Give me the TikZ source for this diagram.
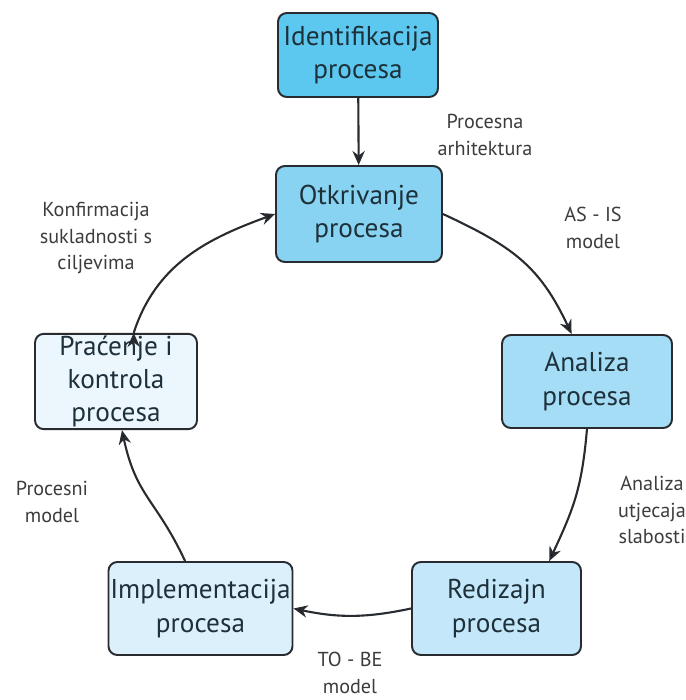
\documentclass[tikz,border=0pt]{standalone}
\usepackage{fontspec}
\setmainfont{PT Sans}
\usepackage{tikz}
\usetikzlibrary{positioning}
\usetikzlibrary{arrows.meta}

\definecolor{identfill}{RGB}{92,200,240}
\definecolor{otkfill}{RGB}{135,211,241}
\definecolor{anafill}{RGB}{166,221,246}
\definecolor{redfill}{RGB}{196,232,250}
\definecolor{implfill}{RGB}{220,240,252}
\definecolor{pracfill}{RGB}{236,246,253}
\definecolor{boxline}{RGB}{40,44,48}
\definecolor{boxtext}{RGB}{30,48,58}
\definecolor{lbltext}{RGB}{60,60,60}

\begin{document}
\begin{tikzpicture}[x=0.02cm,y=0.02cm,>={Stealth[length=8pt,width=7pt]},
                    box/.style={rectangle,rounded corners=5pt,draw=boxline,line width=1.1pt,
                      align=center,text=boxtext,inner sep=1pt,
                      font=\fontsize{15.5}{19}\selectfont},
                    lbl/.style={align=center,text=lbltext,font=\fontsize{11.5}{15}\selectfont}]

  \useasboundingbox (0,0) rectangle (686,700);

  % process steps
  \node[box,fill=identfill,minimum width=3.2cm,minimum height=1.68cm] (ident) at (358,645) {Identifikacija\\procesa};
  \node[box,fill=otkfill,minimum width=3.32cm,minimum height=1.92cm] (otk) at (359,486) {Otkrivanje\\procesa};
  \node[box,fill=anafill,minimum width=3.4cm,minimum height=1.86cm] (ana) at (587,318.5) {Analiza\\procesa};
  \node[box,fill=redfill,minimum width=3.38cm,minimum height=1.86cm] (red) at (496.5,91.5) {Redizajn\\procesa};
  \node[box,fill=implfill,minimum width=3.34cm,minimum height=1.86cm] (impl) at (200.5,91.5) {Implementacija\\procesa};
  \node[box,fill=pracfill,minimum width=3.24cm,minimum height=1.9cm] (prac) at (116,318.5) {Praćenje i\\kontrola\\procesa};

  % outputs
  \node[lbl] (arh) at (485,565) {Procesna\\arhitektura};
  \node[lbl] (asis) at (593,472) {AS - IS\\model};
  \node[lbl] (slab) at (652,190) {Analiza\\utjecaja\\slabosti};
  \node[lbl] (tobe) at (350,27) {TO - BE\\model};
  \node[lbl] (pmod) at (52,198) {Procesni\\model};
  \node[lbl] (konf) at (96,462) {Konfirmacija\\sukladnosti s\\ciljevima};

  \path[->,line width=1.2pt,draw=boxline]
    (ident) edge (otk)
    (otk.east) edge[out=-25,in=115,looseness=1.1] (ana.108)
    (ana.south) edge[out=-95,in=65,looseness=1.1] (red.42)
    (red.west) edge[out=192,in=-12] (impl.east)
    (impl.108) edge[out=115,in=-78,looseness=1.2] (prac.277)
    (prac.70) edge[out=72,in=200] (otk.west);
\end{tikzpicture}
\end{document}
